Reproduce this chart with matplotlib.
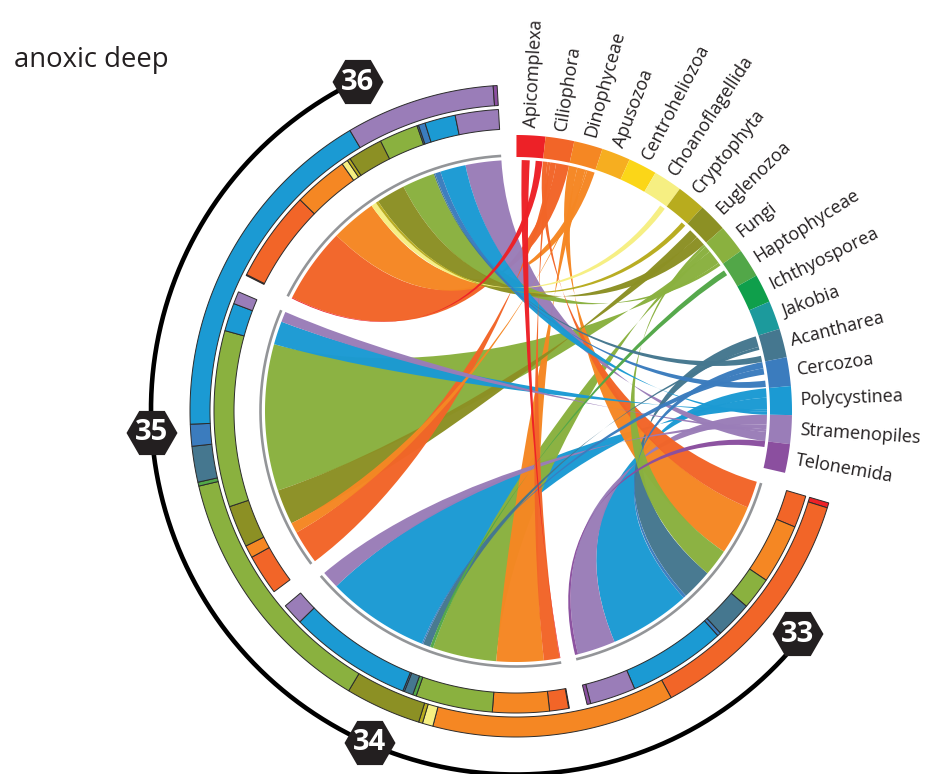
import numpy as np
import matplotlib
matplotlib.use("Agg")
import matplotlib.pyplot as plt
from matplotlib.path import Path
from matplotlib.patches import PathPatch, RegularPolygon

plt.rcParams['font.family'] = ['Open Sans', 'DejaVu Sans']

title = "anoxic deep"
taxa = ["Apicomplexa", "Ciliophora", "Dinophyceae", "Apusozoa", "Centroheliozoa",
        "Choanoflagellida", "Cryptophyta", "Euglenozoa", "Fungi", "Haptophyceae",
        "Ichthyosporea", "Jakobia", "Acantharea", "Cercozoa", "Polycystinea",
        "Stramenopiles", "Telonemida"]
taxon_colors = ["#ED2127", "#F26528", "#F58723", "#F6AE20", "#FBD618", "#F6EF82",
                "#B8AC1E", "#8C9024", "#8AB13F", "#52A748", "#0F9F4B", "#1C9A9C",
                "#45778F", "#3B7CBE", "#1B9AD3", "#9A7DB8", "#8B4F9F"]
group_names = ["33", "34", "35", "36"]

# for each group: taxon, share of the group's 60 units, share of the taxon's 6.05 units
g33_taxa = ["Apicomplexa", "Ciliophora", "Dinophyceae", "Choanoflagellida", "Cryptophyta", "Euglenozoa", "Fungi",
            "Haptophyceae", "Acantharea", "Cercozoa", "Polycystinea", "Stramenopiles", "Telonemida"]
g33_arc = [0, 6.2, 11.5, 0, 0, 0, 6.2, 0, 7.1, 0.7, 18.8, 8.8, 0.7]
g33_end = [1.2, 1.05, 1.95, 4.7, 4.9, 1.5, 0.6, 1.4, 2.5, 1.45, 2.15, 2.28, 1.35]

g34_taxa = ["Apicomplexa", "Ciliophora", "Dinophyceae", "Fungi", "Haptophyceae", "Acantharea", "Cercozoa",
            "Polycystinea", "Stramenopiles"]
g34_arc = [0.15, 3.65, 10.9, 14.8, 0.7, 1.7, 0.3, 23.7, 4.1]
g34_end = [1.85, 0.66, 1.9, 1.43, 1.3, 0.7, 1.45, 2.64, 1.04]

g35_taxa = ["Apicomplexa", "Ciliophora", "Dinophyceae", "Euglenozoa", "Fungi", "Acantharea", "Cercozoa",
            "Polycystinea", "Stramenopiles"]
g35_arc = [0, 7.8, 2.4, 8.1, 33.9, 0, 0, 5.4, 2.4]
g35_end = [1.35, 1.34, 0.42, 2.2, 3.29, 1.4, 1.4, 0.6, 0.63]

g36_taxa = ["Apicomplexa", "Ciliophora", "Dinophyceae", "Choanoflagellida", "Cryptophyta", "Euglenozoa", "Fungi",
            "Acantharea", "Cercozoa", "Polycystinea", "Stramenopiles"]
g36_arc = [0.2, 17.5, 10.5, 1.2, 0.6, 6.7, 7.5, 0.3, 1.3, 5.9, 8.3]
g36_end = [1.55, 3.0, 1.78, 1.3, 1.1, 2.35, 0.73, 1.4, 1.45, 0.66, 2.1]

# outer ring: composition of all groups together (degrees of the 250 unit arc)
total_taxa = ["Apicomplexa", "Ciliophora", "Dinophyceae", "Choanoflagellida", "Cryptophyta", "Euglenozoa", "Fungi",
              "Haptophyceae", "Acantharea", "Cercozoa", "Polycystinea", "Stramenopiles", "Telonemida"]
total_arc = [0.9, 44.3, 43.2, 1.9, 0.7, 13.5, 45.8, 0.7, 6.4, 3.9, 61.7, 26.6, 0.7]

groups = [(g33_taxa, g33_arc, g33_end), (g34_taxa, g34_arc, g34_end),
          (g35_taxa, g35_arc, g35_end), (g36_taxa, g36_arc, g36_end)]

CX, CY = 516.0, 411.0
R_CH, R_GREY = 251.0, 255.5
R_T0, R_T1 = 254.0, 276.0
R1_0, R1_1 = 282.0, 302.0
R2_0, R2_1 = 306.0, 326.0
TAXON_SIZE = 6.05
GROUP_SIZE = 60.0
GAP = 3.43
K_GROUP = 0.38
K_TAXON = 0.56
START = 0.1
color_of = dict(zip(taxa, taxon_colors))


def pt(a, r, cx=CX, cy=CY):
    t = np.radians(a)
    return (cx + r * np.sin(t), cy - r * np.cos(t))


def arc(a0, a1, r):
    n = max(2, int(abs(a1 - a0) * 3) + 2)
    return [pt(a, r) for a in np.linspace(a0, a1, n)]


fig = plt.figure(figsize=(9.28, 7.74), dpi=100)
ax = fig.add_axes([0, 0, 1, 1])
ax.set_xlim(0, 928)
ax.set_ylim(774, 0)
ax.axis('off')


def poly(points, **kw):
    codes = [Path.MOVETO] + [Path.LINETO] * (len(points) - 1) + [Path.CLOSEPOLY]
    ax.add_patch(PathPatch(Path(points + [points[0]], codes), **kw))


def band(a0, a1, r0, r1, **kw):
    poly(arc(a0, a1, r1) + arc(a1, a0, r0), **kw)


def ctrl(p, k):
    return (CX + k * (p[0] - CX), CY + k * (p[1] - CY))


def ribbon(a0, a1, t0, t1, color, z):
    # twisted ribbon: the edges cross on the way from the group to the taxon
    v, c = [], []
    side_a = arc(a0, a1, R_CH)
    side_t = arc(t1, t0, R_CH)
    v += side_a
    c += [Path.MOVETO] + [Path.LINETO] * (len(side_a) - 1)
    v += [ctrl(side_a[-1], K_GROUP), ctrl(side_t[0], K_TAXON), side_t[0]]
    c += [Path.CURVE4] * 3
    v += side_t[1:]
    c += [Path.LINETO] * (len(side_t) - 1)
    v += [ctrl(side_t[-1], K_TAXON), ctrl(side_a[0], K_GROUP), side_a[0]]
    c += [Path.CURVE4] * 3
    ax.add_patch(PathPatch(Path(v, c), facecolor=color, edgecolor='none', alpha=0.98, zorder=z))


# taxon bands and labels
taxon_start = {}
for i, name in enumerate(taxa):
    a0 = START + i * TAXON_SIZE
    taxon_start[name] = a0
    band(a0, a0 + TAXON_SIZE, R_T0, R_T1, facecolor=taxon_colors[i], edgecolor='none', zorder=5)
    ac = a0 + TAXON_SIZE / 2
    x, y = pt(ac, 284)
    ax.text(x, y, name, rotation=90 - ac, rotation_mode='anchor', ha='left', va='center',
            fontsize=13.0, color='#231F20', zorder=6)

# groups: grey arc, inner ring, ribbons
cursor = dict(taxon_start)
queue = []
group_starts = []
a = START + len(taxa) * TAXON_SIZE + GAP
for names, arcs, ends in groups:
    group_starts.append(a)
    ax.plot(*zip(*arc(a, a + GROUP_SIZE, R_GREY)), color='#939598', lw=1.9, solid_capstyle='butt', zorder=5)
    p = a
    for n, w, e in zip(names, arcs, ends):
        t0 = cursor[n]
        cursor[n] = t0 + e
        if w > 0:
            queue.append((p, p + w, t0, t0 + e, color_of[n]))
            band(p, p + w, R1_0, R1_1, facecolor=color_of[n], edgecolor='#2b2b2b', lw=0.7, zorder=5)
        p += w
    a += GROUP_SIZE + GAP

# Smaller ribbons stay on top of larger ones
queue.sort(key=lambda q: -(q[1] - q[0]))
for z, (a0, a1, t0, t1, col) in enumerate(queue):
    ribbon(a0, a1, t0, t1, col, 2 + z * 0.01)

# outer ring
p = group_starts[0]
for n, w in zip(total_taxa, total_arc):
    band(p, p + w, R2_0, R2_1, facecolor=color_of[n], edgecolor='#2b2b2b', lw=0.7, zorder=5)
    p += w

# black arc and group badges
ang = np.linspace(128.3, 334.4, 400)
ax.plot(*zip(*[pt(x, 365, CX, 409.5) for x in ang]), color='black', lw=3.3, zorder=6, solid_capstyle='butt')
for name, (x, y) in zip(group_names, [(798, 634), (370, 743), (152, 433), (358, 82)]):
    ax.add_patch(RegularPolygon((x, y), 6, radius=25.5, orientation=np.pi / 6, facecolor='#231F20',
                                edgecolor='none', zorder=7))
    ax.text(x, y, name, ha='center', va='center', color='white', fontsize=21, fontweight='bold', zorder=8)

ax.text(14, 60, title, fontsize=19.8, ha='left', va='center', color='#231F20')

fig.savefig('out.png', dpi=100)
